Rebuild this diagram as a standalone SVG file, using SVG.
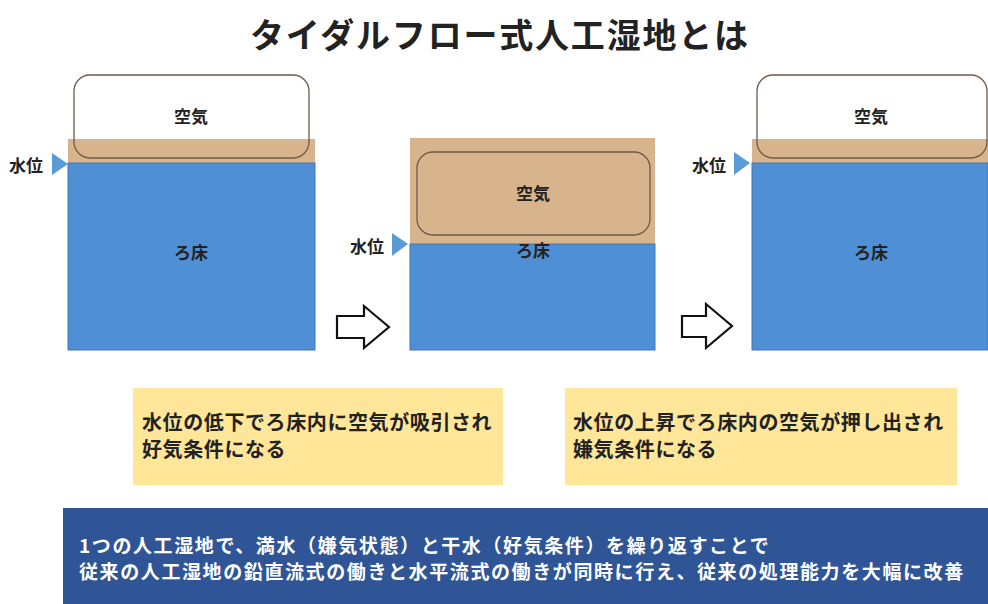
<svg xmlns="http://www.w3.org/2000/svg" width="988" height="604" viewBox="0 0 988 604">
<style>
text{font-family:"Noto Sans CJK JP","Noto Sans",sans-serif;font-weight:bold;fill:#222}
.tan{fill:#D7B48C}
.water{fill:#4F8FD6;stroke:#4577B0;stroke-width:1}
.air{fill:none;stroke:#6E5A48;stroke-width:1.3}
.lbl{font-size:17px;text-anchor:middle;dominant-baseline:central}
.wl{font-size:17px;dominant-baseline:central}
.mk{fill:#5B9BD5}
.arrow{fill:#fff;stroke:#111;stroke-width:2.2;stroke-linejoin:miter}
.note{fill:#FFE699}
.nt{font-size:20px;letter-spacing:0.6px}
.sum{font-size:19px;letter-spacing:1.6px;fill:#fff}
</style>
<rect width="988" height="604" fill="#fff"/>
<text x="250" y="48" style="font-size:34px;letter-spacing:1.8px">タイダルフロー式人工湿地とは</text>

<g id="panel1">
  <rect class="tan" x="68" y="139" width="247" height="24"/>
  <rect class="water" x="68" y="163" width="247" height="187"/>
  <rect class="air" x="74" y="75" width="235" height="83" rx="16"/>
  <text class="lbl" x="191" y="115">空気</text>
  <text class="lbl" x="191" y="251">ろ床</text>
</g>
<g id="level1">
  <polygon class="mk" points="52,153 68,164 52,175"/>
  <text class="wl" x="9" y="164">水位</text>
</g>

<g id="panel2">
  <rect class="tan" x="410" y="138" width="245" height="106"/>
  <rect class="water" x="410" y="244" width="245" height="106"/>
  <rect class="air" x="417" y="152" width="233" height="83" rx="16"/>
  <text class="lbl" x="533" y="192">空気</text>
  <text class="lbl" x="533" y="249">ろ床</text>
</g>
<g id="level2">
  <polygon class="mk" points="392,233 408,244 392,256"/>
  <text class="wl" x="350" y="245">水位</text>
</g>

<g id="panel3">
  <rect class="tan" x="752" y="139" width="236" height="24"/>
  <rect class="water" x="752" y="163" width="236" height="187"/>
  <rect class="air" x="757" y="75" width="230" height="83" rx="16"/>
  <text class="lbl" x="871" y="115">空気</text>
  <text class="lbl" x="871" y="251">ろ床</text>
</g>
<g id="level3">
  <polygon class="mk" points="734,152 750,163 734,175"/>
  <text class="wl" x="692" y="164">水位</text>
</g>

<g id="connectors">
  <path class="arrow" d="M337,316 H364 V306 L389,327 L364,348 V338 H337 Z"/>
  <path class="arrow" d="M682,316 H706 V304 L732,326 L706,348 V337 H682 Z"/>
</g>

<g id="note1">
  <rect class="note" x="133" y="388" width="370" height="97"/>
  <text class="nt" x="142" y="430">水位の低下でろ床内に空気が吸引され</text>
  <text class="nt" x="142" y="457">好気条件になる</text>
</g>
<g id="note2">
  <rect class="note" x="565" y="388" width="392" height="97"/>
  <text class="nt" x="573" y="430">水位の上昇でろ床内の空気が押し出され</text>
  <text class="nt" x="573" y="457">嫌気条件になる</text>
</g>
<g id="summary">
  <rect x="63" y="508" width="925" height="96" fill="#2F5597"/>
  <text class="sum" x="79" y="553">1つの人工湿地で、満水（嫌気状態）と干水（好気条件）を繰り返すことで</text>
  <text class="sum" x="79" y="579">従来の人工湿地の鉛直流式の働きと水平流式の働きが同時に行え、従来の処理能力を大幅に改善</text>
</g>
</svg>
